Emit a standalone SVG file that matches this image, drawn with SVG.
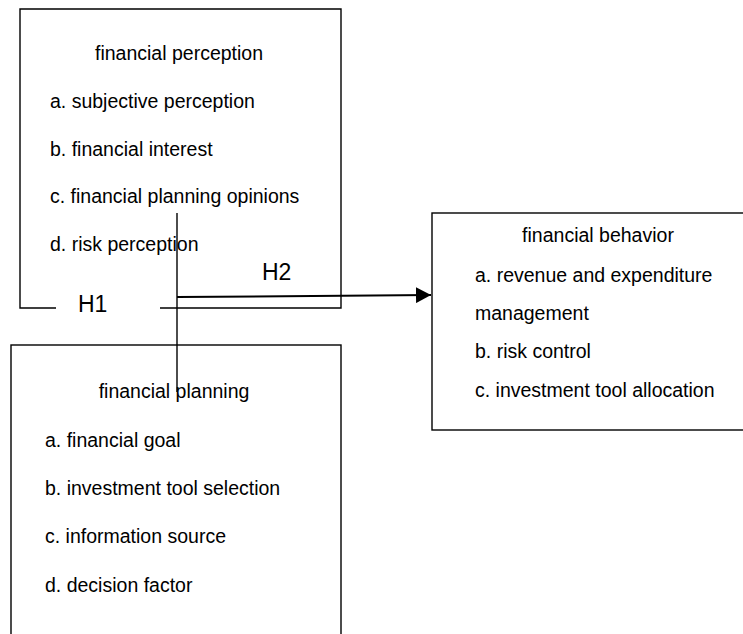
<svg xmlns="http://www.w3.org/2000/svg" width="743" height="634" viewBox="0 0 743 634">
<style>
.box{fill:none;stroke:#000;stroke-width:1.4}
.t{font-family:"Liberation Sans",Arial,sans-serif;font-size:19.5px;fill:#000}
.c{text-anchor:middle}
.h{font-family:"Liberation Sans",Arial,sans-serif;font-size:23px;fill:#000}
.ln{fill:none;stroke:#000;stroke-width:1.4}
.ar{fill:none;stroke:#000;stroke-width:2}
</style>
<defs>
<marker id="ah" markerUnits="userSpaceOnUse" markerWidth="16" markerHeight="16" refX="15" refY="8" orient="auto">
<polygon points="0,0 15,8 0,16" fill="#000"/>
</marker>
</defs>
<rect width="743" height="634" fill="#fff"/>
<g id="perception">
<path class="box" d="M56,308 H20 V9 H341 V308 H160"/>
<text class="t c" x="179" y="60">financial perception</text>
<text class="t" x="50" y="108">a. subjective perception</text>
<text class="t" x="50" y="156">b. financial interest</text>
<text class="t" x="50" y="203">c. financial planning opinions</text>
<text class="t" x="50" y="251">d. risk perception</text>
</g>
<g id="planning">
<rect class="box" x="11" y="345" width="330" height="300"/>
<text class="t c" x="174" y="398">financial planning</text>
<text class="t" x="45" y="447">a. financial goal</text>
<text class="t" x="45" y="495">b. investment tool selection</text>
<text class="t" x="45" y="543">c. information source</text>
<text class="t" x="45" y="592">d. decision factor</text>
</g>
<g id="behavior">
<rect class="box" x="432" y="213" width="330" height="217"/>
<text class="t c" x="598" y="242">financial behavior</text>
<text class="t" x="475" y="282">a. revenue and expenditure</text>
<text class="t" x="475" y="320">management</text>
<text class="t" x="475" y="358">b. risk control</text>
<text class="t" x="475" y="397">c. investment tool allocation</text>
</g>
<g id="connectors">
<line class="ln" x1="177" y1="213" x2="177" y2="392"/>
<line class="ar" x1="177" y1="297" x2="431" y2="295" marker-end="url(#ah)"/>
<text class="h" x="78" y="312">H1</text>
<text class="h" x="262" y="280">H2</text>
</g>
</svg>
